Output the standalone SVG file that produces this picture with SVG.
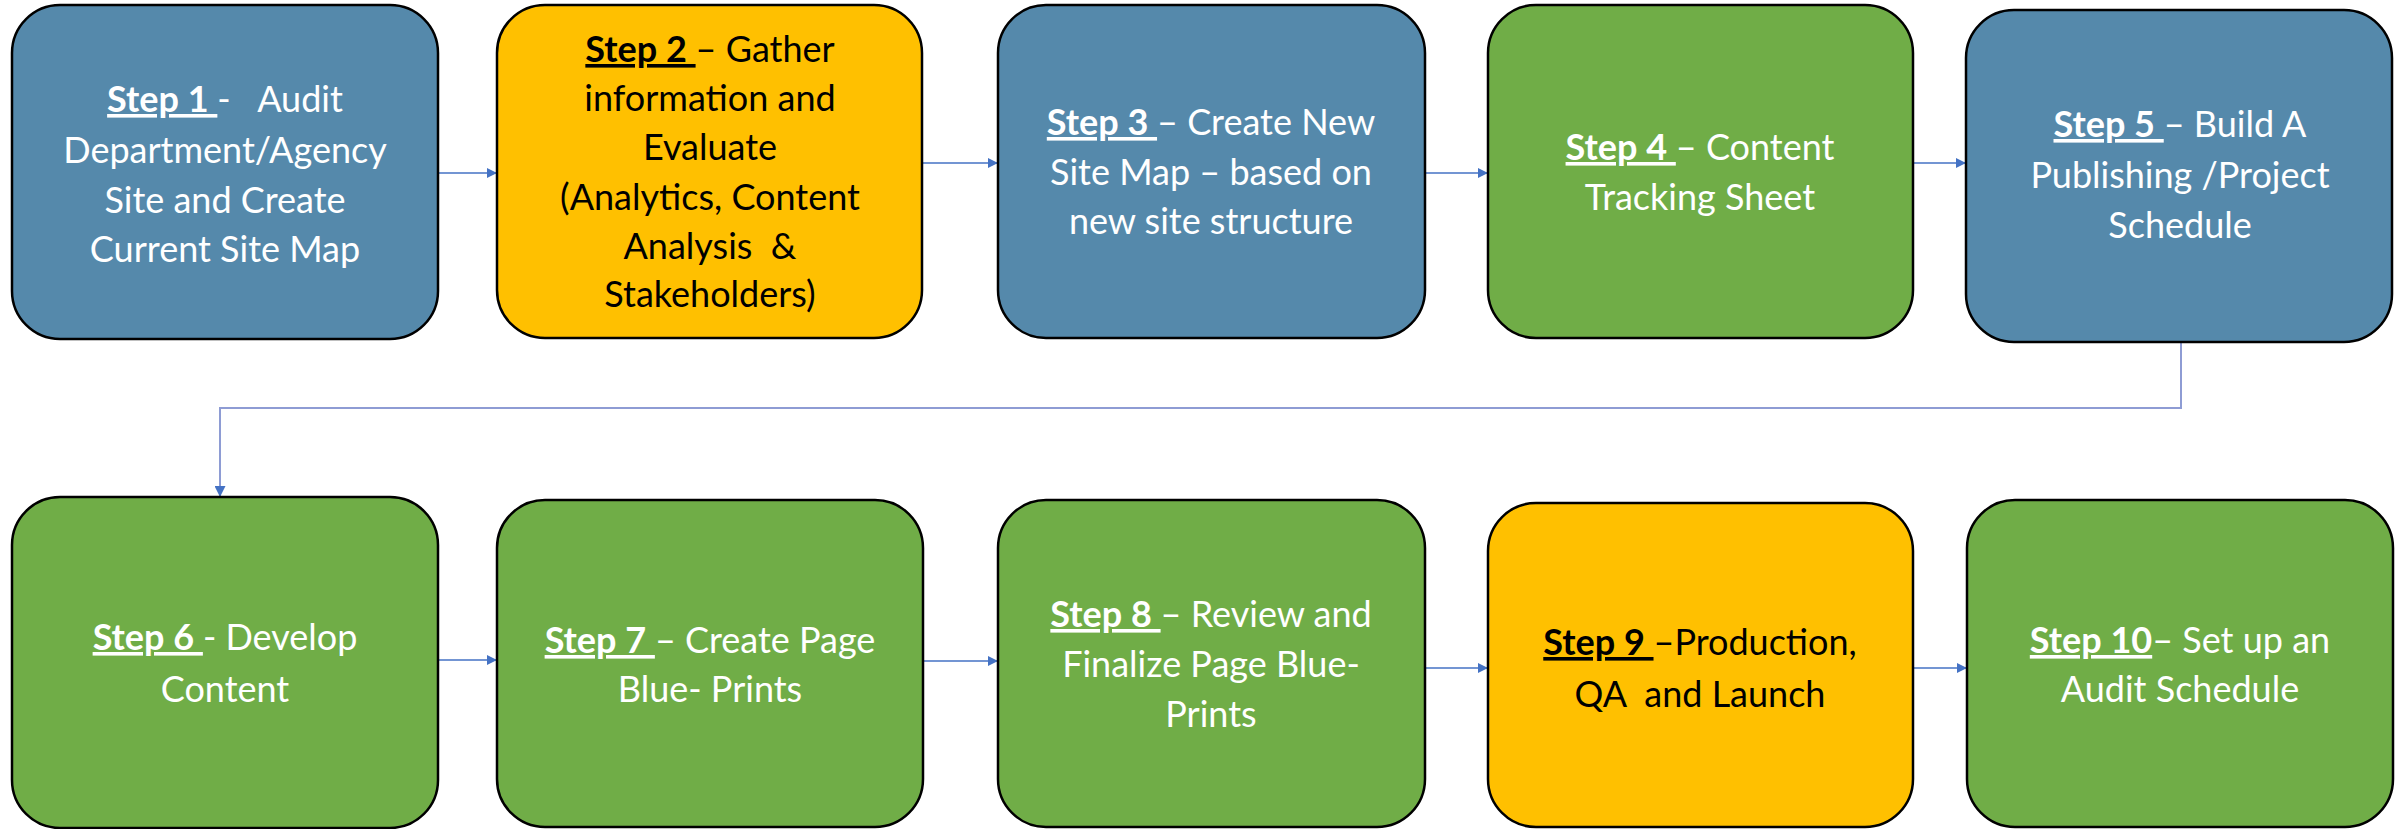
<svg xmlns="http://www.w3.org/2000/svg" width="2405" height="829" viewBox="0 0 2405 829">
<style>
.box{stroke:#000;stroke-width:2.5}
.blue{fill:#5589AB}
.yel{fill:#FFC000}
.grn{fill:#70AD47}
text{font-family:Lato,"Liberation Sans",sans-serif;font-size:36px;text-anchor:middle;white-space:pre}
.w{fill:#fff}
.k{fill:#000}
.s{font-weight:bold;text-decoration:underline}
.c{fill:none;stroke:#4472C4;stroke-width:1.4}
.cl{fill:none;stroke:#8E9CD4;stroke-width:2}
</style>
<defs>
<marker id="ah" viewBox="0 0 10 10" refX="10" refY="5" markerWidth="10" markerHeight="10" markerUnits="userSpaceOnUse" orient="auto">
<path d="M0,0 L10,5 L0,10 Z" fill="#4472C4"/>
</marker>
<marker id="ahl" viewBox="0 0 10 10" refX="10" refY="5" markerWidth="11" markerHeight="11" markerUnits="userSpaceOnUse" orient="auto">
<path d="M0,0 L10,5 L0,10 Z" fill="#4472C4"/>
</marker>
</defs>
<g id="connectors">
<path class="c" d="M438,173 H497" marker-end="url(#ah)"/>
<path class="c" d="M922,163 H998" marker-end="url(#ah)"/>
<path class="c" d="M1425,173 H1488" marker-end="url(#ah)"/>
<path class="c" d="M1913,163 H1966" marker-end="url(#ah)"/>
<path class="cl" d="M2181,342 V408 H220 V497" marker-end="url(#ahl)"/>
<path class="c" d="M438,660 H497" marker-end="url(#ah)"/>
<path class="c" d="M923,661 H998" marker-end="url(#ah)"/>
<path class="c" d="M1425,668 H1488" marker-end="url(#ah)"/>
<path class="c" d="M1913,668 H1967" marker-end="url(#ah)"/>
</g>
<g id="step1">
<rect class="box blue" x="12" y="5" width="426" height="334" rx="48"/>
<text class="w" x="225" y="112"><tspan class="s">Step 1 </tspan>-   Audit</text>
<text class="w" x="225" y="163">Department/Agency</text>
<text class="w" x="225" y="213">Site and Create</text>
<text class="w" x="225" y="262">Current Site Map</text>
</g>
<g id="step2">
<rect class="box yel" x="497" y="5" width="425" height="333" rx="48"/>
<text class="k" x="710" y="62"><tspan class="s">Step 2 </tspan>– Gather</text>
<text class="k" x="710" y="111">information and</text>
<text class="k" x="710" y="160">Evaluate</text>
<text class="k" x="710" y="210">(Analytics, Content</text>
<text class="k" x="710" y="259">Analysis  &amp;</text>
<text class="k" x="710" y="307">Stakeholders)</text>
</g>
<g id="step3">
<rect class="box blue" x="998" y="5" width="427" height="333" rx="48"/>
<text class="w" x="1211" y="135"><tspan class="s">Step 3 </tspan>– Create New</text>
<text class="w" x="1211" y="185">Site Map – based on</text>
<text class="w" x="1211" y="234">new site structure</text>
</g>
<g id="step4">
<rect class="box grn" x="1488" y="5" width="425" height="333" rx="48"/>
<text class="w" x="1700" y="160"><tspan class="s">Step 4 </tspan>– Content</text>
<text class="w" x="1700" y="210">Tracking Sheet</text>
</g>
<g id="step5">
<rect class="box blue" x="1966" y="10" width="426" height="332" rx="48"/>
<text class="w" x="2180" y="137"><tspan class="s">Step 5 </tspan>– Build A</text>
<text class="w" x="2180" y="188">Publishing /Project</text>
<text class="w" x="2180" y="238">Schedule</text>
</g>
<g id="step6">
<rect class="box grn" x="12" y="497" width="426" height="331" rx="48"/>
<text class="w" x="225" y="650"><tspan class="s">Step 6 </tspan>- Develop</text>
<text class="w" x="225" y="702">Content</text>
</g>
<g id="step7">
<rect class="box grn" x="497" y="500" width="426" height="327" rx="48"/>
<text class="w" x="710" y="653"><tspan class="s">Step 7 </tspan>– Create Page</text>
<text class="w" x="710" y="702">Blue- Prints</text>
</g>
<g id="step8">
<rect class="box grn" x="998" y="500" width="427" height="327" rx="48"/>
<text class="w" x="1211" y="627"><tspan class="s">Step 8 </tspan>– Review and</text>
<text class="w" x="1211" y="677">Finalize Page Blue-</text>
<text class="w" x="1211" y="727">Prints</text>
</g>
<g id="step9">
<rect class="box yel" x="1488" y="503" width="425" height="324" rx="48"/>
<text class="k" x="1700" y="655"><tspan class="s">Step 9 </tspan>–Production,</text>
<text class="k" x="1700" y="707">QA  and Launch</text>
</g>
<g id="step10">
<rect class="box grn" x="1967" y="500" width="426" height="327" rx="48"/>
<text class="w" x="2180" y="653"><tspan class="s">Step 10</tspan>– Set up an</text>
<text class="w" x="2180" y="702">Audit Schedule</text>
</g>
</svg>
